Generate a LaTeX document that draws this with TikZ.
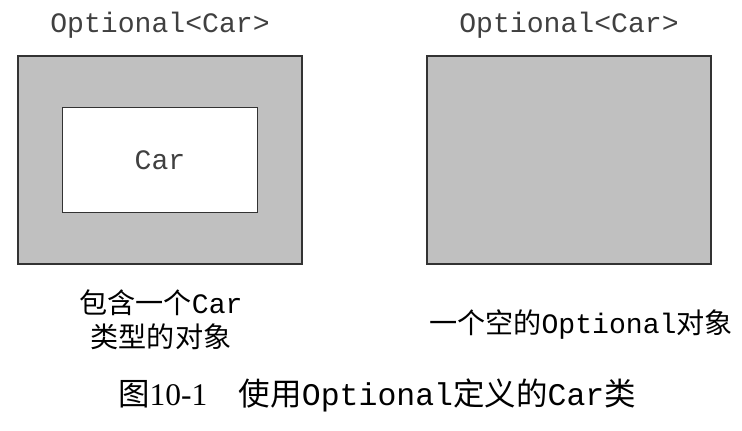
\documentclass[tikz,border=0pt]{standalone}
\usepackage{fontspec}
\setmainfont{Liberation Serif}
\setmonofont{Liberation Mono}
\newfontfamily\cjk{Noto Sans CJK SC}
\usetikzlibrary{positioning}
\definecolor{boxgray}{HTML}{C0C0C0}
\definecolor{edgegray}{HTML}{333333}
\definecolor{textgray}{HTML}{404040}
\tikzset{
    x=0.025cm,
    y=-0.025cm,
    holder/.style = {
        draw=edgegray,
        shape=rectangle,
        minimum width=7.1cm,
        minimum height=5.2cm,
        line width=1.2pt,
        fill=boxgray
    },
    content/.style = {
        draw=edgegray,
        shape=rectangle,
        minimum width=4.875cm,
        minimum height=2.625cm,
        line width=1.2pt,
        fill=white
    },
    codetext/.style = {
        font=\fontsize{20}{24}\selectfont\ttfamily,
        text=textgray,
        inner sep=0pt
    },
    labeltext/.style = {
        font=\fontsize{20}{24}\selectfont,
        align=center,
        inner sep=0pt
    },
}
\begin{document}
\begin{tikzpicture}
            \useasboundingbox (0,0) rectangle (742,430);

            \node[holder] (fullopt) at (160,160) {};
            \node[content] (car) at (160,160) {};
            \node[codetext] (cartext) at (car.center) {Car};
            \node[codetext] (fulltitle) at (160,25) {Optional<Car>};

            \node[holder] (emptyopt) at (569,160) {};
            \node[codetext] (emptytitle) at (569,25) {Optional<Car>};

            \node[labeltext] (fulllabel) at (161,320) {{\cjk 包含一个}{\ttfamily Car}\\{\cjk 类型的对象}};
            \node[labeltext] (emptylabel) at (581,325) {{\cjk 一个空的}{\ttfamily Optional}{\cjk 对象}};

            \node[labeltext, font=\fontsize{22.4}{26}\selectfont] (caption) at (377,395) {{\cjk 图}10-1{\cjk 　使用}{\ttfamily Optional}{\cjk 定义的}{\ttfamily Car}{\cjk 类}};

        \end{tikzpicture}
\end{document}
